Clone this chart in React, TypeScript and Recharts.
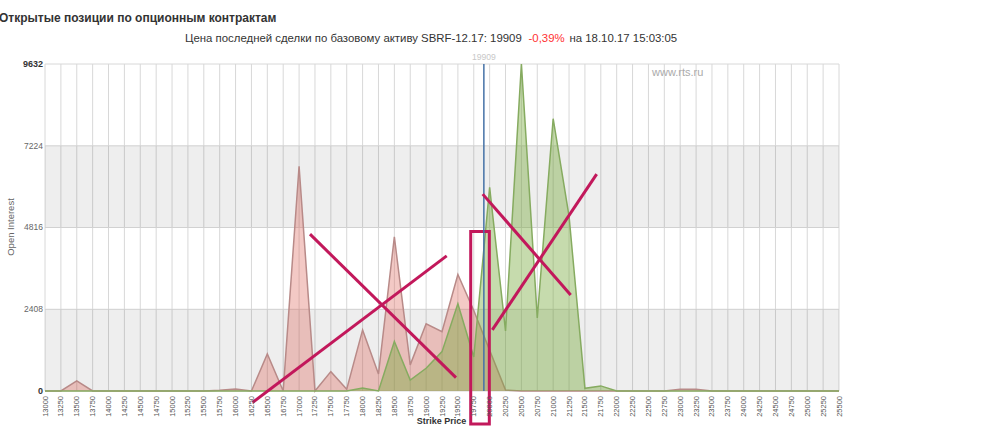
import {
  Area,
  CartesianGrid,
  ComposedChart,
  ReferenceArea,
  ReferenceLine,
  XAxis,
  YAxis,
} from "recharts";

// strike prices (x categories)
const strikes = [
  13000, 13250, 13500, 13750, 14000, 14250, 14500, 14750, 15000, 15250, 15500, 15750, 16000,
  16250, 16500, 16750, 17000, 17250, 17500, 17750, 18000, 18250, 18500, 18750, 19000, 19250,
  19500, 19750, 20000, 20250, 20500, 20750, 21000, 21250, 21500, 21750, 22000, 22250, 22500,
  22750, 23000, 23250, 23500, 23750, 24000, 24250, 24500, 24750, 25000, 25250, 25500,
];

// open interest, puts (red)
const putOI = [
  0, 0, 300, 0, 0, 0, 0, 0, 0, 0, 0, 20, 60,
  0, 1090, 0, 6620, 0, 570, 50, 1800, 500, 4540, 770, 1980, 1750,
  3430, 2370, 1200, 30, 0, 0, 0, 0, 0, 0, 0, 0, 0,
  0, 50, 50, 0, 0, 0, 0, 0, 0, 0, 0, 0,
];

// open interest, calls (green)
const callOI = [
  0, 0, 0, 0, 0, 0, 0, 0, 0, 0, 0, 0, 0,
  0, 0, 0, 0, 0, 0, 0, 90, 0, 1460, 320, 670, 1160,
  2570, 1000, 6000, 1770, 9632, 2150, 8020, 5150, 80, 150, 0, 0, 0,
  0, 0, 0, 0, 0, 0, 0, 0, 0, 0, 0, 0,
];

const yTicks = [0, 2408, 4816, 7224, 9632];
const lastPrice = 19909;

// hand-drawn marks on the screenshot, in data units
const crossLines = [
  [{ x: 16267, y: -339 }, { x: 19324, y: 3980 }],
  [{ x: 17172, y: 4620 }, { x: 19470, y: 392 }],
  [{ x: 19891, y: 5799 }, { x: 21276, y: 2830 }],
  [{ x: 20042, y: 1798 }, { x: 21685, y: 6388 }],
];
const markBox = { x1: 19702, x2: 19995, y1: -973, y2: 4696 };

const data = strikes.map((strike, i) => ({
  strike,
  puts: putOI[i],
  calls: callOI[i],
}));

const font = "'Liberation Sans', Arial, Helvetica, sans-serif";
const markColor = "#c2185b";

const XTick = ({ x, y, payload }: any) => (
  <text
    x={x}
    y={y}
    transform={`rotate(-90 ${x} ${y})`}
    textAnchor="end"
    dominantBaseline="central"
    fontSize={7.5}
    fill="#555"
    fontFamily={font}
  >
    {payload.value}
  </text>
);

const YTick = ({ x, y, payload }: any) => {
  const strong = payload.value === 0 || payload.value === 9632;
  return (
    <text
      x={x}
      y={y}
      dy="0.35em"
      textAnchor="end"
      fontSize={strong ? 9 : 8.5}
      fontWeight={strong ? "bold" : "normal"}
      fill={strong ? "#333" : "#666"}
      fontFamily={font}
    >
      {payload.value}
    </text>
  );
};

export default function App() {
  return (
    <div
      style={{
        position: "absolute",
        left: 0,
        top: 0,
        width: 1000,
        height: 426,
        overflow: "hidden",
        background: "#fff",
        fontFamily: font,
      }}
    >
      <ComposedChart
        width={1000}
        height={426}
        data={data}
        margin={{ top: 64, right: 161, bottom: 0, left: 5 }}
      >
        <CartesianGrid stroke="#d8d8d8" />
        <ReferenceArea y1={0} y2={2408} fill="#000" fillOpacity={0.065} stroke="none" ifOverflow="visible" />
        <ReferenceArea y1={4816} y2={7224} fill="#000" fillOpacity={0.065} stroke="none" ifOverflow="visible" />
        <XAxis
          dataKey="strike"
          type="number"
          domain={[13000, 25500]}
          ticks={strikes}
          interval={0}
          height={35}
          tickSize={0}
          tickMargin={5}
          axisLine={false}
          tick={<XTick />}
        />
        <YAxis
          type="number"
          domain={[0, 9632]}
          ticks={yTicks}
          width={40}
          tickSize={0}
          tickMargin={2}
          axisLine={false}
          tick={<YTick />}
        />
        <Area
          type="linear"
          dataKey="puts"
          stroke="#b88a88"
          strokeWidth={1.5}
          fill="rgb(220,100,90)"
          fillOpacity={0.35}
          dot={false}
          activeDot={false}
          isAnimationActive={false}
        />
        <Area
          type="linear"
          dataKey="calls"
          stroke="#86ab60"
          strokeWidth={1.5}
          fill="rgb(120,170,60)"
          fillOpacity={0.42}
          dot={false}
          activeDot={false}
          isAnimationActive={false}
        />
        <ReferenceLine
          x={lastPrice}
          stroke="#4572a7"
          strokeWidth={1.5}
          label={{ value: String(lastPrice), position: "top", offset: 4, fill: "#c8c8c8", fontSize: 8.6 }}
        />
        {crossLines.map((seg, i) => (
          <ReferenceLine
            key={`mark-${i}`}
            segment={seg}
            stroke={markColor}
            strokeWidth={3}
            ifOverflow="visible"
          />
        ))}
        <ReferenceArea
          {...markBox}
          fill="none"
          stroke={markColor}
          strokeWidth={3}
          ifOverflow="visible"
        />
      </ComposedChart>
      <svg
        width={1000}
        height={426}
        style={{ position: "absolute", left: 0, top: 0, pointerEvents: "none" }}
        fontFamily={font}
      >
        <text x={-1} y={21.5} fontSize={12} fontWeight="bold" fill="#333">
          Открытые позиции по опционным контрактам
        </text>
        <text x={185} y={41.5} fontSize={11.4} fill="#333">
          Цена последней сделки по базовому активу SBRF-12.17: 19909
        </text>
        <text x={528.5} y={41.5} fontSize={11.4} fill="#ff3333">
          -0,39%
        </text>
        <text x={569.5} y={41.5} fontSize={11.4} fill="#333">
          на 18.10.17 15:03:05
        </text>
        <text x={652} y={75.5} fontSize={11} fill="#aaa">
          www.rts.ru
        </text>
        <text
          x={10}
          y={227}
          transform="rotate(-90 10 227)"
          textAnchor="middle"
          dominantBaseline="central"
          fontSize={9.5}
          fill="#666"
        >
          Open Interest
        </text>
        <text x={441.5} y={423.5} textAnchor="middle" fontSize={9} fontWeight="bold" fill="#333">
          Strike Price
        </text>
      </svg>
    </div>
  );
}
